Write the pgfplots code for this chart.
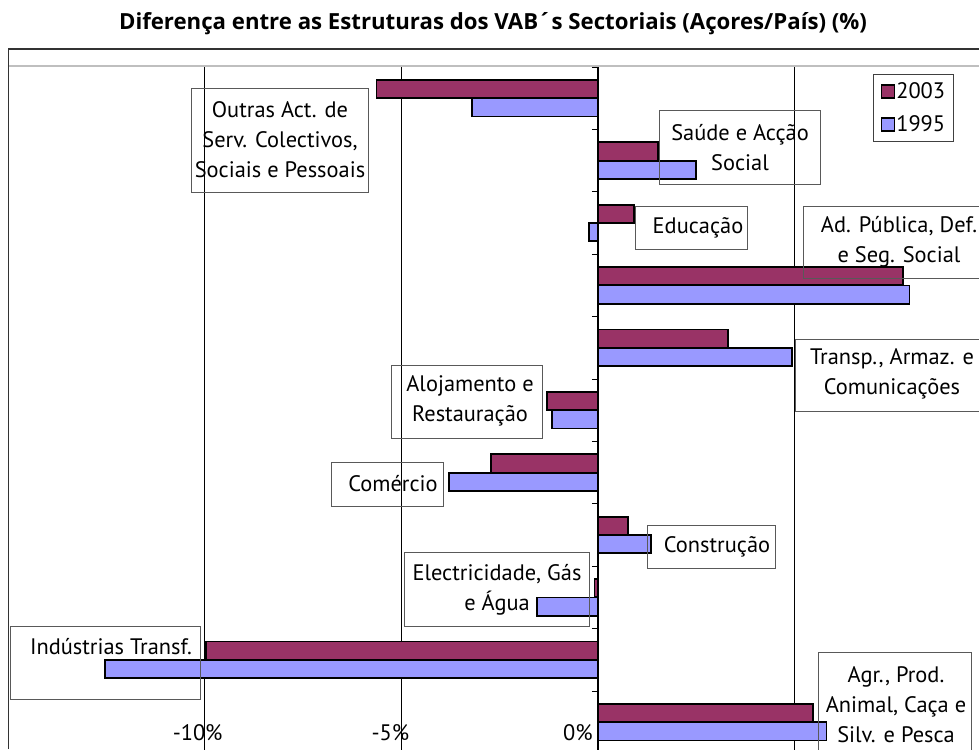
\documentclass[border=0pt]{standalone}
\usepackage{pgfplots}
\pgfplotsset{compat=1.18}
\usepackage{fontspec}
\setmainfont{PT Sans}
\newfontfamily\titlefont{Open Sans}
\definecolor{c03}{HTML}{993366}
\definecolor{c95}{HTML}{9999FF}
\newcommand{\lbl}{\fontsize{22.4}{30}\selectfont}
\begin{document}
\begin{tikzpicture}
\useasboundingbox (0,0) rectangle (979pt,-749pt);
\clip (0,0) rectangle (979pt,-749pt);
\fill[white] (0,0) rectangle (979pt,-749pt);
\begin{axis}[
  at={(8pt,-753.4pt)}, anchor=south west,
  scale only axis, width=983.3pt, height=686.4pt,
  xmin=-15, xmax=10, ymin=0.5, ymax=11.5,
  axis x line=bottom, axis y line=middle,
  axis line style={-, black, line width=1pt},
  hide obscured x ticks=false, hide obscured y ticks=false,
  xtick={-10,-5,0,5},
  xticklabels={\makebox[0pt]{\hspace*{-14pt}-10\%},\makebox[0pt]{\hspace*{-22pt}-5\%},\makebox[0pt]{\hspace*{-40pt}0\%},{}},
  xticklabel style={anchor=center, yshift=26.6pt, font=\lbl},
  xmajorgrids, grid style={black, line width=0.9pt},
  x tick style={draw=none},
  ytick={0.5,1.5,...,11.5}, yticklabel=\empty,
  y tick style={black, line width=0.9pt},
  major tick length=6pt, tick align=outside,
  legend style={at={(0.8797,0.9898)}, anchor=north west, draw=black!75, line width=1pt,
    font=\lbl, inner xsep=7pt, inner ysep=7pt, row sep=14pt,
    nodes={inner sep=1pt}, cells={anchor=west}},
  legend image code/.code={\draw[#1, line width=1.8pt] (0pt,-6.5pt) rectangle (13pt,6.5pt);},
]
\addplot[xbar, bar width=0.29, bar shift=0.147, fill=c03, draw=black, line width=1.8pt]
  coordinates {(-5.63,11) (1.53,10) (0.915,9) (7.76,8) (3.31,7) (-1.29,6) (-2.73,5) (0.77,4) (-0.09,3) (-9.97,2) (5.47,1)};
\addlegendentry{2003}
\addplot[xbar, bar width=0.29, bar shift=-0.147, fill=c95, draw=black, line width=1.8pt]
  coordinates {(-3.20,11) (2.49,10) (-0.22,9) (7.92,8) (4.94,7) (-1.16,6) (-3.78,5) (1.34,4) (-1.56,3) (-12.53,2) (5.81,1)};
\addlegendentry{1995}
\end{axis}
\begin{scope}[x=1pt,y=-1pt]
\draw[black!25, line width=2pt] (8,66) -- (979,66);
\draw[black!80, line width=1.5pt] (8.5,749) -- (8.5,49) -- (979,49);
\node[font=\titlefont\bfseries\fontsize{22.2}{24}\selectfont] at (493,24) {Diferença entre as Estruturas dos VAB´s Sectoriais (Açores/País) (\%)};
\begin{scope}[every node/.style={font=\lbl, align=center, inner sep=0pt}]
\draw[black!65, line width=1pt] (191,89) rectangle (368,192);
\node at (280,140) {Outras Act. de\\Serv. Colectivos,\\Sociais e Pessoais};
\draw[black!65, line width=1pt] (659,111) rectangle (820,184);
\node at (740,148) {Saúde e Acção\\Social};
\draw[black!65, line width=1pt] (635,206) rectangle (747,249);
\node at (698,228) {Educação};
\draw[black!65, line width=1pt] (803,206) rectangle (1000,278);
\node at (899,242) {Ad. Pública, Def.\\e Seg. Social};
\draw[black!65, line width=1pt] (795,339) rectangle (1000,411);
\node at (892,374) {Transp., Armaz. e\\Comunicações};
\draw[black!65, line width=1pt] (391,365) rectangle (542,438);
\node at (470,401) {Alojamento e\\Restauração};
\draw[black!65, line width=1pt] (331,462) rectangle (443,506);
\node at (393,484) {Comércio};
\draw[black!65, line width=1pt] (647,525) rectangle (775,568);
\node at (717,547) {Construção};
\draw[black!65, line width=1pt] (404,552) rectangle (589,626);
\node at (497,590) {Electricidade, Gás\\e Água};
\draw[black!65, line width=1pt] (10,626) rectangle (200,699);
\node at (111,647) {Indústrias Transf.};
\draw[black!65, line width=1pt] (818,652) rectangle (971,770);
\node at (896,705) {Agr., Prod.\\Animal, Caça e\\Silv. e Pesca};
\end{scope}
\end{scope}
\end{tikzpicture}
\end{document}
